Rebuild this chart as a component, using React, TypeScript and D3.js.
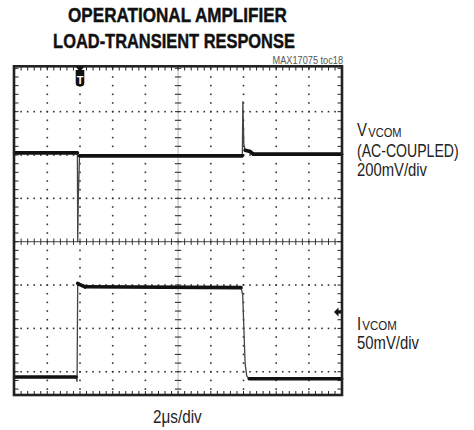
import React, { useEffect, useRef } from 'react'
import * as d3 from 'd3'

const titleLines = ['OPERATIONAL AMPLIFIER', 'LOAD-TRANSIENT RESPONSE']
const tocLabel = 'MAX17075 toc18'
const timeLabel = '2μs/div'

// scope settings
const usPerDiv = 2
const hDivs = 10
const triggerUs = 4

// channel 1: V_VCOM, 200mV/div, ground marker position in divisions from centre
const vcomScale = 200
const vcomPos = 2.05
const vcomUs = [0, 3.84, 3.86, 3.9, 3.97, 13.93, 13.96, 14.02, 14.1, 14.4, 14.6, 20]
const vcomMv = [0, 0, -410, -200, -14, -14, 236, 40, 12, 6, -6, -6]

// channel 2: I_VCOM, 50mV/div
const icomScale = 50
const icomPos = -1.62
const icomUs = [0, 3.75, 3.82, 3.86, 3.92, 4.3, 13.85, 13.95, 14.1, 14.2, 14.35, 20]
const icomMv = [-75, -75, -80, 33, 32, 29, 28, 20, -60, -74, -77, -77]

const W = 474
const H = 430
const FONT = '"Liberation Sans", Arial, sans-serif'

type Sel = d3.Selection<any, unknown, null, undefined>

// condensed text: squeeze a regular face horizontally into the measured width
const addText = (g: Sel, str: string, x: number, y: number, size: number, width: number, anchor = 'start') => {
  const t = g.append('text')
    .attr('x', 0).attr('y', 0)
    .attr('font-size', size)
    .attr('text-anchor', anchor)
    .text(str)
  const natural = (t.node() as SVGTextElement).getComputedTextLength() || width
  t.attr('transform', `translate(${x},${y}) scale(${width / natural},1)`)
  return t
}

export default function App () {
  const ref = useRef<SVGSVGElement | null>(null)

  useEffect(() => {
    const svg = d3.select(ref.current)
    svg.selectAll('*').remove()

    const left = 14.6
    const right = 341.6
    const top = 68.3
    const divH = 43.35
    const frameBottom = 395

    const x = d3.scaleLinear().domain([0, hDivs * usPerDiv]).range([left, right])
    const xDiv = d3.scaleLinear().domain([0, hDivs]).range([left, right])
    const yDiv = d3.scaleLinear().domain([4, -4]).range([top, top + 8 * divH])
    const bottomDiv = yDiv.invert(frameBottom)

    // title
    const title = svg.append('g')
      .attr('font-family', FONT)
      .attr('font-weight', 'bold')
      .attr('fill', '#111')
      .attr('stroke', '#111')
      .attr('stroke-width', 0.45)
    addText(title, titleLines[0], 177.5, 22, 20.5, 219, 'middle')
    addText(title, titleLines[1], 174, 48, 20.5, 242, 'middle')

    const toc = svg.append('g').attr('font-family', FONT).attr('fill', '#555')
    addText(toc, tocLabel, 343, 64, 10.5, 70.5, 'end')

    const grid = svg.append('g')
    const minorX = d3.range(0, hDivs + 0.001, 0.2)
    const minorY = d3.range(4, bottomDiv - 0.001, -0.2)

    // dotted grid lines
    d3.range(1, hDivs).filter(k => k !== 5).forEach(k => {
      grid.append('g').selectAll('rect')
        .data(minorY)
        .enter()
        .append('rect')
          .attr('x', xDiv(k) - 0.8)
          .attr('y', d => yDiv(d) - 0.8)
          .attr('width', 1.6)
          .attr('height', 1.6)
          .attr('fill', '#333')
    })
    ;[3, 2, 1, -1, -2, -3].forEach(k => {
      grid.append('g').selectAll('rect')
        .data(minorX)
        .enter()
        .append('rect')
          .attr('x', d => xDiv(d) - 0.8)
          .attr('y', yDiv(k) - 0.8)
          .attr('width', 1.6)
          .attr('height', 1.6)
          .attr('fill', '#333')
    })

    // centre axes with minor ticks
    grid.append('line')
      .attr('x1', left).attr('x2', right)
      .attr('y1', yDiv(0)).attr('y2', yDiv(0))
      .attr('stroke', '#333').attr('stroke-width', 0.9)
    grid.append('g').selectAll('line')
      .data(minorX)
      .enter()
      .append('line')
        .attr('x1', d => xDiv(d)).attr('x2', d => xDiv(d))
        .attr('y1', yDiv(0) - 3.2).attr('y2', yDiv(0) + 3.2)
        .attr('stroke', '#333').attr('stroke-width', 1)
    grid.append('line')
      .attr('x1', xDiv(5)).attr('x2', xDiv(5))
      .attr('y1', top).attr('y2', frameBottom)
      .attr('stroke', '#999').attr('stroke-width', 0.7)
    grid.append('g').selectAll('line')
      .data(minorY)
      .enter()
      .append('line')
        .attr('x1', xDiv(5) - 3.2).attr('x2', xDiv(5) + 3.2)
        .attr('y1', d => yDiv(d)).attr('y2', d => yDiv(d))
        .attr('stroke', '#333').attr('stroke-width', 1.1)

    // edge ticks
    const edge = grid.append('g').attr('stroke', '#222').attr('stroke-width', 1)
    edge.selectAll('line.t')
      .data(minorX)
      .enter()
      .append('line')
        .attr('class', 't')
        .attr('x1', d => xDiv(d)).attr('x2', d => xDiv(d))
        .attr('y1', 66).attr('y2', 70.5)
    edge.selectAll('line.b')
      .data(minorX)
      .enter()
      .append('line')
        .attr('class', 'b')
        .attr('x1', d => xDiv(d)).attr('x2', d => xDiv(d))
        .attr('y1', frameBottom).attr('y2', frameBottom - 4)
    edge.selectAll('line.l')
      .data(minorY)
      .enter()
      .append('line')
        .attr('class', 'l')
        .attr('x1', 14).attr('x2', 18.5)
        .attr('y1', d => yDiv(d)).attr('y2', d => yDiv(d))
    edge.selectAll('line.r')
      .data(minorY)
      .enter()
      .append('line')
        .attr('class', 'r')
        .attr('x1', 342).attr('x2', 337.5)
        .attr('y1', d => yDiv(d)).attr('y2', d => yDiv(d))

    // traces
    const drawTrace = (us: number[], mv: number[], scale: number, pos: number) => {
      const pts: [number, number][] = us.map((t, i) => [x(t), yDiv(pos + mv[i] / scale)])
      const g = svg.append('g').attr('fill', 'none').attr('stroke-linejoin', 'round')
      g.append('path')
        .attr('d', d3.line()(pts))
        .attr('stroke', '#444')
        .attr('stroke-width', 1.3)
      // flat stretches are noisy on the scope: draw them thick, edges stay thin
      for (let i = 0; i < pts.length - 1; i++) {
        const dx = pts[i + 1][0] - pts[i][0]
        const dy = pts[i + 1][1] - pts[i][1]
        if (Math.abs(dy) < Math.abs(dx)) {
          g.append('path')
            .attr('d', d3.line()([pts[i], pts[i + 1]]))
            .attr('stroke', '#111')
            .attr('stroke-width', 3.6)
            .attr('stroke-linecap', 'round')
        }
      }
    }
    drawTrace(vcomUs, vcomMv, vcomScale, vcomPos)
    drawTrace(icomUs, icomMv, icomScale, icomPos)

    // frame
    svg.append('rect')
      .attr('x', 14).attr('y', 66.3)
      .attr('width', 328).attr('height', frameBottom - 66.3)
      .attr('fill', 'none')
      .attr('stroke', '#222')
      .attr('stroke-width', 2.6)

    // trigger marker
    const tx = x(triggerUs)
    svg.append('path')
      .attr('d', `M${tx - 4.5},66.5 L${tx + 4.5},66.5 L${tx + 1.5},70 L${tx + 4.3},70 L${tx + 4.3},83 Q${tx + 4.3},86.5 ${tx},86.5 Q${tx - 4.3},86.5 ${tx - 4.3},83 L${tx - 4.3},70 L${tx - 1.5},70 Z`)
      .attr('fill', '#111')
    svg.append('text')
      .attr('x', tx).attr('y', 83.5)
      .attr('text-anchor', 'middle')
      .attr('font-family', FONT)
      .attr('font-weight', 'bold')
      .attr('font-size', 11)
      .attr('fill', '#fff')
      .text('T')

    // channel 2 ground marker
    const gy = yDiv(icomPos)
    svg.append('path')
      .attr('d', `M334,${gy} L338.5,${gy - 4.5} L338.5,${gy - 1.5} L341,${gy - 1.5} L341,${gy + 1.5} L338.5,${gy + 1.5} L338.5,${gy + 4.5} Z`)
      .attr('fill', '#111')

    // channel labels
    const lab = svg.append('g')
      .attr('font-family', FONT)
      .attr('fill', '#222')
    addText(lab, 'V', 357, 136, 17.5, 10)
    addText(lab, 'VCOM', 368.3, 137, 13.5, 33.3)
    addText(lab, '(AC-COUPLED)', 357, 157, 17.5, 101.7)
    addText(lab, '200mV/div', 357, 175.5, 17.5, 70)

    // channel 2 label as one condensed text block
    const sx = 0.85
    const ib = lab.append('text')
      .attr('font-size', 17.5)
      .attr('transform', `translate(357,0) scale(${sx},1)`)
    ib.append('tspan').attr('x', 0).attr('y', 330).text('I')
    ib.append('tspan').attr('x', 5.3 / sx).attr('y', 330.3).attr('font-size', 13.5).text('VCOM')
    ib.append('tspan').attr('x', 0).attr('y', 349).text('50mV/div')

    const xl = svg.append('g').attr('font-family', FONT).attr('fill', '#222')
    addText(xl, timeLabel, 177.4, 423, 17.5, 48.7, 'middle')
  }, [])

  return (
    <svg ref={ref} width={W} height={H}
      style={{ position: 'absolute', left: 0, top: 0, background: '#fff' }} />
  )
}
